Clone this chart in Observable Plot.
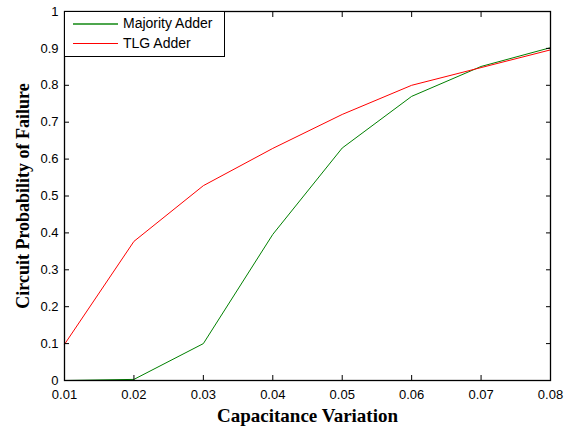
<!DOCTYPE html>
<html>
<head>
<meta charset="utf-8">
<script src="https://cdn.jsdelivr.net/npm/d3@7"></script>
<script src="https://cdn.jsdelivr.net/npm/@observablehq/plot@0.6"></script>
<style>
  html, body { margin: 0; padding: 0; background: #fff; }
  #wrap { position: relative; width: 574px; height: 428px; }
  #legend { position: absolute; left: 64px; top: 11px; width: 161px; height: 46px; border: 1.3px solid #000; background: #fff; font: 14px "Liberation Sans", Arial, sans-serif; color: #000; box-sizing: border-box; }
  .sw { position: absolute; left: 8px; width: 45px; }
  .tx { position: absolute; left: 58px; line-height: 16px; white-space: nowrap; }
  svg g[aria-label="x-axis label"] text { font: bold 19px "Liberation Serif", "Times New Roman", serif; fill: #000; }
  svg g[aria-label="y-axis label"] text { font: bold 18px "Liberation Serif", "Times New Roman", serif; fill: #000; }
</style>
</head>
<body>
<div id="wrap"></div>
<script>
const capVariation = [0.01, 0.02, 0.03, 0.04, 0.05, 0.06, 0.07, 0.08];
const majorityAdder = [0.0, 0.003, 0.10, 0.396, 0.630, 0.770, 0.851, 0.902];
const tlgAdder = [0.098, 0.377, 0.528, 0.629, 0.721, 0.800, 0.848, 0.896];
const seriesNames = ["Majority Adder", "TLG Adder"];
const seriesColors = ["#008000", "#ff0000"];
const xTicks = [0.01, 0.02, 0.03, 0.04, 0.05, 0.06, 0.07, 0.08];
const yTicks = [0, 0.1, 0.2, 0.3, 0.4, 0.5, 0.6, 0.7, 0.8, 0.9, 1];

const data = [];
capVariation.forEach((x, i) => {
  data.push({x, y: majorityAdder[i], s: seriesNames[0]});
});
capVariation.forEach((x, i) => {
  data.push({x, y: tlgAdder[i], s: seriesNames[1]});
});

const fmtY = d => d === 0 ? "0" : d === 1 ? "1" : String(d);
const chart = Plot.plot({
  width: 574,
  height: 428,
  marginLeft: 64,
  marginRight: 24,
  marginTop: 11,
  marginBottom: 48,
  style: {fontFamily: "'Liberation Sans', Arial, sans-serif", fontSize: "13px", color: "#000", background: "#fff"},
  x: {domain: [0.01, 0.08]},
  y: {domain: [0, 1]},
  color: {domain: seriesNames, range: seriesColors},
  marks: [
    Plot.line(data, {x: "x", y: "y", z: "s", stroke: "s", strokeWidth: 1}),
    Plot.axisX(xTicks, {anchor: "bottom", tickSize: -5, tickPadding: 14, tickFormat: d3.format(".2f"), label: "Capacitance Variation", labelAnchor: "center", labelArrow: "none", labelOffset: 41, fill: "#000", stroke: "#000"}),
    Plot.axisX(xTicks, {anchor: "top", tickSize: -5, tickFormat: () => "", label: null, stroke: "#000"}),
    Plot.axisY(yTicks, {anchor: "left", tickSize: -5, tickPadding: 11, tickFormat: fmtY, label: "Circuit Probability of Failure", labelAnchor: "center", labelArrow: "none", labelOffset: 48, fill: "#000", stroke: "#000"}),
    Plot.axisY(yTicks, {anchor: "right", tickSize: -5, tickFormat: () => "", label: null, stroke: "#000"}),
    Plot.frame({stroke: "#000", strokeWidth: 1.3})
  ]
});

const wrap = document.getElementById("wrap");
wrap.appendChild(chart);
const legend = document.createElement("div");
legend.id = "legend";
seriesNames.forEach((name, i) => {
  const cy = i === 0 ? 11 : 31;
  const sw = document.createElement("div");
  sw.className = "sw";
  sw.style.top = cy + "px";
  sw.style.height = (i === 0 ? 2 : 1) + "px";
  sw.style.background = i === 0 ? "#4da64d" : seriesColors[i];
  const tx = document.createElement("div");
  tx.className = "tx";
  tx.style.top = (cy - 8) + "px";
  tx.textContent = name;
  legend.appendChild(sw);
  legend.appendChild(tx);
});
wrap.appendChild(legend);
</script>
</body>
</html>
